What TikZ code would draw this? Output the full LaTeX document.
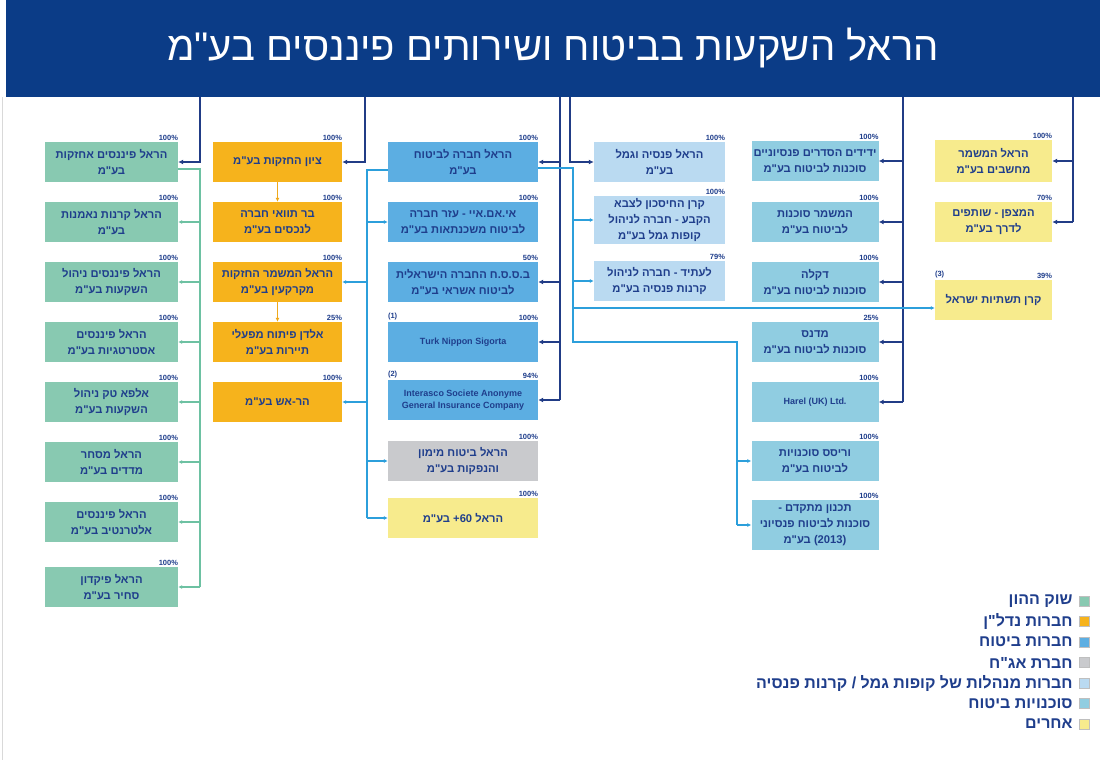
\documentclass[tikz,border=0pt]{standalone}
\usepackage{fontspec}
\usepackage{tikz}
\usetikzlibrary{arrows.meta}
\usetikzlibrary{positioning}
\TeXXeTstate=1
\newfontfamily\hebfont[Script=Hebrew]{Liberation Sans}
\newcommand{\heb}[1]{\beginR #1\endR}
\newcommand{\ltr}[1]{\beginL #1\endL}

\definecolor{barnavy}{HTML}{0B3C87}
\definecolor{textnavy}{HTML}{1F3E8C}
\definecolor{linenavy}{HTML}{213C86}
\definecolor{greenfill}{HTML}{88C9B1}
\definecolor{orangefill}{HTML}{F6B31C}
\definecolor{bluefill}{HTML}{5CAEE2}
\definecolor{greyfill}{HTML}{C9CACD}
\definecolor{palefill}{HTML}{BADAF1}
\definecolor{tealfill}{HTML}{90CDE1}
\definecolor{yellowfill}{HTML}{F7EB8D}
\definecolor{lineblue}{HTML}{2C9FDB}
\definecolor{linegreen}{HTML}{6DC1A2}
\definecolor{lineorange}{HTML}{EFA91C}

\begin{document}
\begin{tikzpicture}[x=1pt,y=-1pt]
\tikzset{>={Latex[width=5pt,length=5pt]}}
\tikzstyle{unitbox}=[rectangle,minimum height=40pt,inner xsep=2pt,inner ysep=2pt,align=center,text=textnavy,font=\hebfont\bfseries\fontsize{11.2}{16}\selectfont]
\tikzstyle{greenbox}=[unitbox,fill=greenfill,minimum width=133pt]
\tikzstyle{orangebox}=[unitbox,fill=orangefill,minimum width=129pt]
\tikzstyle{bluebox}=[unitbox,fill=bluefill,minimum width=150pt]
\tikzstyle{greybox}=[unitbox,fill=greyfill,minimum width=150pt]
\tikzstyle{palebox}=[unitbox,fill=palefill,minimum width=131pt]
\tikzstyle{tealbox}=[unitbox,fill=tealfill,minimum width=127pt]
\tikzstyle{yellowbox}=[unitbox,fill=yellowfill,minimum width=117pt]
\tikzstyle{latin}=[font=\hebfont\bfseries\fontsize{9}{12}\selectfont]
\tikzstyle{pct}=[anchor=south east,inner xsep=0pt,inner ysep=1.5pt,text=textnavy,font=\hebfont\bfseries\fontsize{7.5}{8}\selectfont]
\tikzstyle{fnote}=[pct,anchor=south west]
\tikzstyle{navyline}=[draw=linenavy,line width=2.4pt]
\tikzstyle{blueline}=[draw=lineblue,line width=1.2pt,>={Latex[width=4pt,length=4pt]}]
\tikzstyle{greenline}=[draw=linegreen,line width=1.2pt,>={Latex[width=4pt,length=4pt]}]
\tikzstyle{orangeline}=[draw=lineorange,line width=1.2pt,>={Latex[width=4pt,length=4pt]}]
\tikzstyle{legsq}=[rectangle,minimum size=10pt,inner sep=0pt,draw=black!25]
\tikzstyle{legtext}=[text=textnavy,inner sep=0pt,font=\hebfont\bfseries\fontsize{16}{17}\selectfont]

\useasboundingbox (0,0) rectangle (1100,760);
\fill[white] (0,0) rectangle (1100,760);
\draw[black!15] (2,97) -- (2,760);

% title bar
\node[fill=barnavy,minimum width=1094pt,minimum height=97pt,inner sep=0pt,text=white,font=\hebfont\fontsize{40}{44}\selectfont] (bar) at (553,48.5) {\heb{הראל השקעות בביטוח ושירותים פיננסים בע"מ}};
\coordinate (tG) at (200,97);
\coordinate (tO) at (365,97);
\coordinate (tB) at (560,97);
\coordinate (tP) at (570,97);
\coordinate (tA) at (903,97);
\coordinate (tY) at (1073,97);

% capital market
\node[greenbox] (G1) at (111.5,162) {\heb{הראל פיננסים אחזקות}\\\heb{בע"מ}};
\node[greenbox] (G2) at (111.5,222) {\heb{הראל קרנות נאמנות}\\\heb{בע"מ}};
\node[greenbox] (G3) at (111.5,282) {\heb{הראל פיננסים ניהול}\\\heb{השקעות בע"מ}};
\node[greenbox] (G4) at (111.5,342) {\heb{הראל פיננסים}\\\heb{אסטרטגיות בע"מ}};
\node[greenbox] (G5) at (111.5,402) {\heb{אלפא טק ניהול}\\\heb{השקעות בע"מ}};
\node[greenbox] (G6) at (111.5,462) {\heb{הראל מסחר}\\\heb{מדדים בע"מ}};
\node[greenbox] (G7) at (111.5,522) {\heb{הראל פיננסים}\\\heb{אלטרנטיב בע"מ}};
\node[greenbox] (G8) at (111.5,587) {\heb{הראל פיקדון}\\\heb{סחיר בע"מ}};
\node[pct] (pG1) at (G1.north east) {100\%};
\node[pct] (pG2) at (G2.north east) {100\%};
\node[pct] (pG3) at (G3.north east) {100\%};
\node[pct] (pG4) at (G4.north east) {100\%};
\node[pct] (pG5) at (G5.north east) {100\%};
\node[pct] (pG6) at (G6.north east) {100\%};
\node[pct] (pG7) at (G7.north east) {100\%};
\node[pct] (pG8) at (G8.north east) {100\%};

% real estate
\node[orangebox] (O1) at (277.5,162) {\heb{ציון החזקות בע"מ}};
\node[orangebox] (O2) at (277.5,222) {\heb{בר תוואי חברה}\\\heb{לנכסים בע"מ}};
\node[orangebox] (O3) at (277.5,282) {\heb{הראל המשמר החזקות}\\\heb{מקרקעין בע"מ}};
\node[orangebox] (O4) at (277.5,342) {\heb{אלדן פיתוח מפעלי}\\\heb{תיירות בע"מ}};
\node[orangebox] (O5) at (277.5,402) {\heb{הר-אש בע"מ}};
\node[pct] (pO1) at (O1.north east) {100\%};
\node[pct] (pO2) at (O2.north east) {100\%};
\node[pct] (pO3) at (O3.north east) {100\%};
\node[pct] (pO4) at (O4.north east) {25\%};
\node[pct] (pO5) at (O5.north east) {100\%};

% insurance
\node[bluebox] (B1) at (463,162) {\heb{הראל חברה לביטוח}\\\heb{בע"מ}};
\node[bluebox] (B2) at (463,222) {\heb{אי.אם.איי - עזר חברה}\\\heb{לביטוח משכנתאות בע"מ}};
\node[bluebox] (B3) at (463,282) {\heb{ב.ס.ס.ח החברה הישראלית}\\\heb{לביטוח אשראי בע"מ}};
\node[bluebox,latin] (B4) at (463,342) {Turk Nippon Sigorta};
\node[bluebox,latin] (B5) at (463,400) {Interasco Societe Anonyme\\General Insurance Company};
\node[greybox] (B6) at (463,461) {\heb{הראל ביטוח מימון}\\\heb{והנפקות בע"מ}};
\node[yellowbox,minimum width=150pt] (B7) at (463,518) {\heb{הראל \ltr{60}+ בע"מ}};
\node[pct] (pB1) at (B1.north east) {100\%};
\node[pct] (pB2) at (B2.north east) {100\%};
\node[pct] (pB3) at (B3.north east) {50\%};
\node[pct] (pB4) at (B4.north east) {100\%};
\node[fnote] (nB4) at (B4.north west) {(1)};
\node[pct] (pB5) at (B5.north east) {94\%};
\node[fnote] (nB5) at (B5.north west) {(2)};
\node[pct] (pB6) at (B6.north east) {100\%};
\node[pct] (pB7) at (B7.north east) {100\%};

% provident and pension funds
\node[palebox] (P1) at (659.5,162) {\heb{הראל פנסיה וגמל}\\\heb{בע"מ}};
\node[palebox] (P2) at (659.5,220) {\heb{קרן החיסכון לצבא}\\\heb{הקבע - חברה לניהול}\\\heb{קופות גמל בע"מ}};
\node[palebox] (P3) at (659.5,281) {\heb{לעתיד - חברה לניהול}\\\heb{קרנות פנסיה בע"מ}};
\node[pct] (pP1) at (P1.north east) {100\%};
\node[pct] (pP2) at (P2.north east) {100\%};
\node[pct] (pP3) at (P3.north east) {79\%};

% agencies
\node[tealbox] (A1) at (815,161) {\heb{ידידים הסדרים פנסיוניים}\\\heb{סוכנות לביטוח בע"מ}};
\node[tealbox] (A2) at (815,222) {\heb{המשמר סוכנות}\\\heb{לביטוח בע"מ}};
\node[tealbox] (A3) at (815,282) {\heb{דקלה}\\\heb{סוכנות לביטוח בע"מ}};
\node[tealbox] (A4) at (815,342) {\heb{מדנס}\\\heb{סוכנות לביטוח בע"מ}};
\node[tealbox,latin] (A5) at (815,402) {Harel (UK) Ltd.};
\node[tealbox] (A6) at (815,461) {\heb{וריסס סוכנויות}\\\heb{לביטוח בע"מ}};
\node[tealbox,minimum height=50pt] (A7) at (815,525) {\heb{תכנון מתקדם -}\\\heb{סוכנות לביטוח פנסיוני}\\\heb{\ltr{(2013)} בע"מ}};
\node[pct] (pA1) at (A1.north east) {100\%};
\node[pct] (pA2) at (A2.north east) {100\%};
\node[pct] (pA3) at (A3.north east) {100\%};
\node[pct] (pA4) at (A4.north east) {25\%};
\node[pct] (pA5) at (A5.north east) {100\%};
\node[pct] (pA6) at (A6.north east) {100\%};
\node[pct] (pA7) at (A7.north east) {100\%};

% others
\node[yellowbox,minimum height=42pt] (Y1) at (993.5,161) {\heb{הראל המשמר}\\\heb{מחשבים בע"מ}};
\node[yellowbox] (Y2) at (993.5,222) {\heb{המצפן - שותפים}\\\heb{לדרך בע"מ}};
\node[yellowbox] (Y3) at (993.5,300) {\heb{קרן תשתיות ישראל}};
\node[pct] (pY1) at (Y1.north east) {100\%};
\node[pct] (pY2) at (Y2.north east) {70\%};
\node[pct] (pY3) at (Y3.north east) {39\%};
\node[fnote] (nY3) at (Y3.north west) {(3)};

% holdings from the parent
\draw[navyline,->] (tG) |- (G1.east);
\draw[navyline,->] (tO) |- (O1.east);
\draw[navyline] (tB) -- (tB |- B5.east);
\draw[navyline,->] (tB |- B1.east) -- (B1.east);
\draw[navyline,->] (tB |- B3.east) -- (B3.east);
\draw[navyline,->] (tB |- B4.east) -- (B4.east);
\draw[navyline,->] (tB |- B5.east) -- (B5.east);
\draw[navyline,->] (tP) |- (P1.west);
\draw[navyline] (tA) -- (tA |- A5.east);
\draw[navyline,->] (tA |- A1.east) -- (A1.east);
\draw[navyline,->] (tA |- A2.east) -- (A2.east);
\draw[navyline,->] (tA |- A3.east) -- (A3.east);
\draw[navyline,->] (tA |- A4.east) -- (A4.east);
\draw[navyline,->] (tA |- A5.east) -- (A5.east);
\draw[navyline] (tY) -- (tY |- Y2.east);
\draw[navyline,->] (tY |- Y1.east) -- (Y1.east);
\draw[navyline,->] (tY |- Y2.east) -- (Y2.east);

% green bus
\draw[greenline] ([yshift=-7pt]G1.east) -| (tG |- G8.east);
\draw[greenline,->] (tG |- G2.east) -- (G2.east);
\draw[greenline,->] (tG |- G3.east) -- (G3.east);
\draw[greenline,->] (tG |- G4.east) -- (G4.east);
\draw[greenline,->] (tG |- G5.east) -- (G5.east);
\draw[greenline,->] (tG |- G6.east) -- (G6.east);
\draw[greenline,->] (tG |- G7.east) -- (G7.east);
\draw[greenline,->] (tG |- G8.east) -- (G8.east);

% real estate chain
\draw[orangeline,->] (O1.south) -- (O2.north);
\draw[orangeline,->] (O3.south) -- (O4.north);

% from the insurance company, left side
\coordinate (kL) at (367,170);
\draw[blueline] ([yshift=-8pt]B1.west) -| (kL |- B7.west);
\draw[blueline,->] (kL |- B2.west) -- (B2.west);
\draw[blueline,->] (kL |- B6.west) -- (B6.west);
\draw[blueline,->] (kL |- B7.west) -- (B7.west);
\draw[blueline,->] (kL |- O3.east) -- (O3.east);
\draw[blueline,->] (kL |- O5.east) -- (O5.east);

% from the insurance company, right side
\coordinate (kR) at (573,342);
\coordinate (kA) at (737,342);
\coordinate (Y3in) at ([yshift=-8pt]Y3.west);
\draw[blueline] ([yshift=-6pt]B1.east) -| (kR) -- (kA) -- (kA |- A7.west);
\draw[blueline,->] (kR |- P2.west) -- (P2.west);
\draw[blueline,->] (kR |- P3.west) -- (P3.west);
\draw[blueline,->] (kR |- Y3in) -- (Y3in);
\draw[blueline,->] (kA |- A6.west) -- (A6.west);
\draw[blueline,->] (kA |- A7.west) -- (A7.west);

% legend
\node[legsq,fill=greenfill] (sq1) at (1084,601) {};
\node[legtext,left=6pt of sq1] (lg1) {\heb{שוק ההון}};
\node[legsq,fill=orangefill] (sq2) at (1084,621.5) {};
\node[legtext,left=6pt of sq2] (lg2) {\heb{חברות נדל"ן}};
\node[legsq,fill=bluefill] (sq3) at (1084,642) {};
\node[legtext,left=6pt of sq3] (lg3) {\heb{חברות ביטוח}};
\node[legsq,fill=greyfill] (sq4) at (1084,662.5) {};
\node[legtext,left=6pt of sq4] (lg4) {\heb{חברת אג"ח}};
\node[legsq,fill=palefill] (sq5) at (1084,683) {};
\node[legtext,left=6pt of sq5] (lg5) {\heb{חברות מנהלות של קופות גמל / קרנות פנסיה}};
\node[legsq,fill=tealfill] (sq6) at (1084,703.5) {};
\node[legtext,left=6pt of sq6] (lg6) {\heb{סוכנויות ביטוח}};
\node[legsq,fill=yellowfill] (sq7) at (1084,724) {};
\node[legtext,left=6pt of sq7] (lg7) {\heb{אחרים}};
\end{tikzpicture}
\end{document}
